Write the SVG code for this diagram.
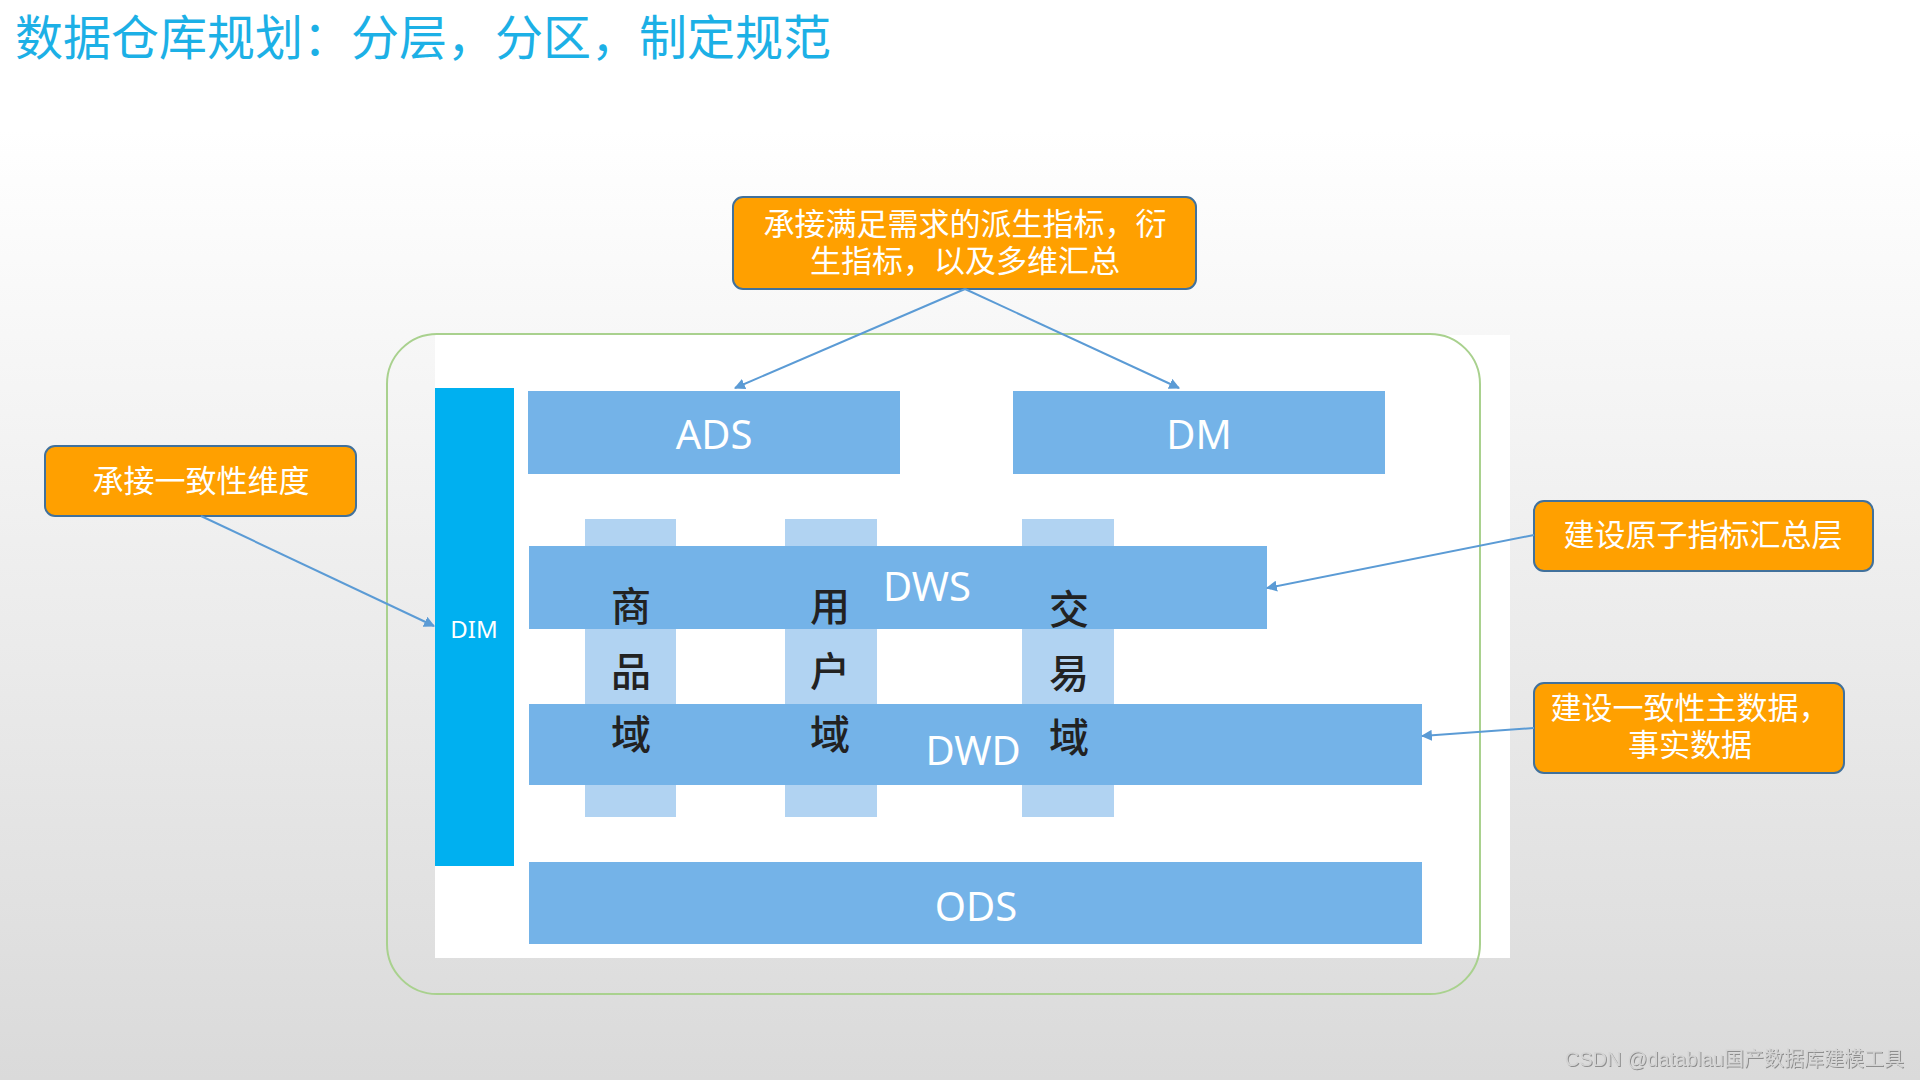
<svg xmlns="http://www.w3.org/2000/svg" width="1920" height="1080" viewBox="0 0 1920 1080">
<defs>
<linearGradient id="bg" x1="0" y1="0" x2="0" y2="1">
<stop offset="0" stop-color="#ffffff"/>
<stop offset="0.12" stop-color="#ffffff"/>
<stop offset="1" stop-color="#dadada"/>
</linearGradient>
<marker id="arr" viewBox="0 0 10 10" refX="9" refY="5" markerWidth="11" markerHeight="11" orient="auto-start-reverse" markerUnits="userSpaceOnUse">
<path d="M0,0 L10,5 L0,10 z" fill="#5b9bd5"/>
</marker>
<filter id="emb" x="-5%" y="-30%" width="110%" height="160%">
<feDropShadow dx="1" dy="1" stdDeviation="0.4" flood-color="#7a7a7a" flood-opacity="0.8"/>
</filter>
<style>
.call{fill:#ffa000;stroke:#41719c;stroke-width:2}
.ct{font-family:"Noto Sans CJK SC","Noto Sans",sans-serif;font-size:31px;fill:#ffffff;text-anchor:middle}
.band{fill:#74b3e8}
.col{fill:#b1d3f2}
.bt{font-family:"Noto Sans","Liberation Sans",sans-serif;font-size:40px;fill:#ffffff;text-anchor:middle;dominant-baseline:central}
.dt{font-family:"Noto Sans CJK SC",sans-serif;font-size:40px;font-weight:500;fill:#222222;text-anchor:middle;dominant-baseline:central}
.conn{stroke:#5b9bd5;stroke-width:2;fill:none;marker-end:url(#arr)}
</style>
</defs>
<rect x="0" y="0" width="1920" height="1080" fill="url(#bg)"/>
<text x="15" y="55" font-family="Noto Sans CJK SC,sans-serif" font-size="48" fill="#1cb0e6">数据仓库规划：分层，分区，制定规范</text>

<g id="container">
<rect x="435" y="335" width="1075" height="623" fill="#ffffff"/>
<rect x="387" y="334" width="1093" height="660" rx="50" ry="50" fill="none" stroke="#a9d18e" stroke-width="2"/>
</g>

<g id="DIM">
<rect x="435" y="388" width="79" height="478" fill="#00b0f0"/>
<text x="474" y="628" font-family="Noto Sans,Liberation Sans,sans-serif" font-size="24" fill="#ffffff" text-anchor="middle" dominant-baseline="central">DIM</text>
</g>

<g id="ADS">
<rect class="band" x="528" y="391" width="372" height="83"/>
<text class="bt" x="714" y="433">ADS</text>
</g>
<g id="DM">
<rect class="band" x="1013" y="391" width="372" height="83"/>
<text class="bt" x="1199" y="433">DM</text>
</g>

<g id="domain-goods">
<rect class="col" x="585" y="519" width="91" height="298"/>
</g>
<g id="domain-user">
<rect class="col" x="785" y="519" width="92" height="298"/>
</g>
<g id="domain-trade">
<rect class="col" x="1022" y="519" width="92" height="298"/>
</g>

<g id="DWS">
<rect class="band" x="529" y="546" width="738" height="83"/>
<text class="bt" x="927" y="585">DWS</text>
</g>
<g id="DWD">
<rect class="band" x="529" y="704" width="893" height="81"/>
<text class="bt" x="973" y="749">DWD</text>
</g>
<g id="ODS">
<rect class="band" x="529" y="862" width="893" height="82"/>
<text class="bt" x="976" y="905">ODS</text>
</g>

<g id="domain-labels">
<text class="dt" x="631" y="604">商</text>
<text class="dt" x="631" y="669">品</text>
<text class="dt" x="631" y="732">域</text>
<text class="dt" x="830" y="604">用</text>
<text class="dt" x="830" y="669">户</text>
<text class="dt" x="830" y="732">域</text>
<text class="dt" x="1069" y="607">交</text>
<text class="dt" x="1069" y="671">易</text>
<text class="dt" x="1069" y="735">域</text>
</g>

<g id="callout-top">
<rect class="call" x="733" y="197" width="463" height="92" rx="10" ry="10"/>
<text class="ct"><tspan x="965" y="235">承接满足需求的派生指标，衍</tspan><tspan x="965" y="272">生指标，以及多维汇总</tspan></text>
</g>
<g id="callout-left">
<rect class="call" x="45" y="446" width="311" height="70" rx="10" ry="10"/>
<text class="ct" x="201" y="492">承接一致性维度</text>
</g>
<g id="callout-right1">
<rect class="call" x="1534" y="501" width="339" height="70" rx="10" ry="10"/>
<text class="ct" x="1703" y="546">建设原子指标汇总层</text>
</g>
<g id="callout-right2">
<rect class="call" x="1534" y="683" width="310" height="90" rx="10" ry="10"/>
<text class="ct"><tspan x="1690" y="719">建设一致性主数据，</tspan><tspan x="1690" y="756">事实数据</tspan></text>
</g>

<g id="connectors">
<line class="conn" x1="965" y1="289" x2="735" y2="388"/>
<line class="conn" x1="965" y1="289" x2="1179" y2="388"/>
<line class="conn" x1="201" y1="516" x2="434" y2="626"/>
<line class="conn" x1="1534" y1="535" x2="1267" y2="588"/>
<line class="conn" x1="1534" y1="728" x2="1422" y2="736"/>
</g>

<text x="1904" y="1066" font-family="Liberation Sans,Noto Sans CJK SC,sans-serif" font-size="20" fill="#d4d4d4" text-anchor="end" filter="url(#emb)">CSDN @datablau国产数据库建模工具</text>
</svg>
